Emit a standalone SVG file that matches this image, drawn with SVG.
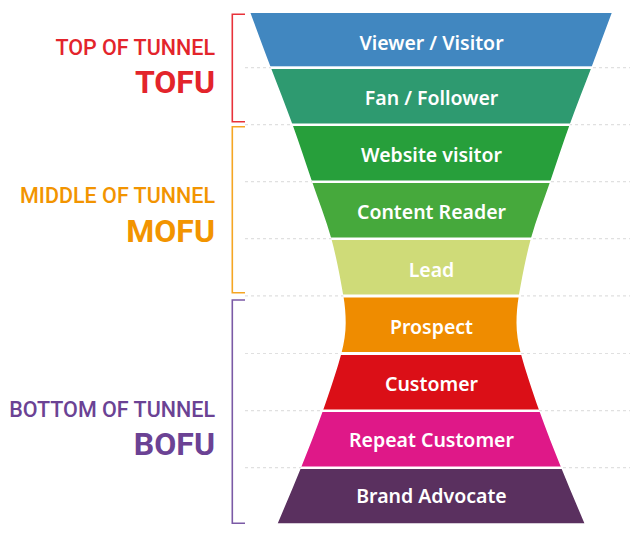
<svg xmlns="http://www.w3.org/2000/svg" width="630" height="540" viewBox="0 0 630 540">
<style>
.lbl{font-family:"Noto Sans","Open Sans","DejaVu Sans",sans-serif;font-weight:600;font-size:19.5px;fill:#fff;text-anchor:middle}
.sm{font-family:Roboto,"Liberation Sans",sans-serif;font-weight:500;font-size:21.5px;text-anchor:end}
.big{font-family:Roboto,"Liberation Sans",sans-serif;font-weight:700;font-size:32px;text-anchor:end}
.dash{stroke:#e0e0e0;stroke-width:1.2;stroke-dasharray:3 3;fill:none}
.br{fill:none;stroke-width:1.6}
</style>
<defs>
<path id="half" d="M 250.5,13 C 257.27,31.17 263.8,48.92 270.8,67.5 C 277.8,86.08 285.63,105.5 292.5,124.5 C 299.37,143.5 305.53,162.5 312,181.5 C 318.47,200.5 326.07,219.42 331.3,238.5 C 336.53,257.58 341,281.92 343.4,296 C 344.93,305 345.7,314 345.7,323 C 345.7,333 344.1,343 341.5,353 C 337.72,367.58 329.75,391.37 323,410.5 C 316.25,429.63 308.55,448.97 301,467.8 C 293.45,486.63 285.47,504.930 277.7,523.5 L 440,523.5 L 440,13 Z"/>
<clipPath id="hg">
<use href="#half"/>
<use href="#half" transform="translate(862.2 0) scale(-1 1)"/>
</clipPath>
</defs>
<rect width="630" height="540" fill="#fff"/>
<g id="gridlines">
<line class="dash" x1="245" y1="67.6" x2="630" y2="67.6"/>
<line class="dash" x1="245" y1="124.7" x2="630" y2="124.7"/>
<line class="dash" x1="245" y1="181.7" x2="630" y2="181.7"/>
<line class="dash" x1="245" y1="238.7" x2="630" y2="238.7"/>
<line class="dash" x1="245" y1="295.9" x2="630" y2="295.9"/>
<line class="dash" x1="245" y1="353.5" x2="630" y2="353.5"/>
<line class="dash" x1="245" y1="410.7" x2="630" y2="410.7"/>
<line class="dash" x1="245" y1="467.7" x2="630" y2="467.7"/>
</g>
<rect x="240" y="13" width="390" height="511" fill="#fff" clip-path="url(#hg)"/>
<g id="viewer"><rect x="240" y="13" width="390" height="53.3" fill="#4187c0" clip-path="url(#hg)"/><text class="lbl" x="431.5" y="50">Viewer / Visitor</text></g>
<g id="fan"><rect x="240" y="69" width="390" height="54.5" fill="#2e9a70" clip-path="url(#hg)"/><text class="lbl" x="431.5" y="105">Fan / Follower</text></g>
<g id="website"><rect x="240" y="126" width="390" height="54.5" fill="#279f3b" clip-path="url(#hg)"/><text class="lbl" x="431.5" y="162">Website visitor</text></g>
<g id="content"><rect x="240" y="183" width="390" height="54.5" fill="#46a93c" clip-path="url(#hg)"/><text class="lbl" x="431.5" y="219">Content Reader</text></g>
<g id="lead"><rect x="240" y="240" width="390" height="54.5" fill="#cfdb78" clip-path="url(#hg)"/><text class="lbl" x="431.5" y="277">Lead</text></g>
<g id="prospect"><rect x="240" y="297.5" width="390" height="54.5" fill="#ef8c00" clip-path="url(#hg)"/><text class="lbl" x="431.5" y="334">Prospect</text></g>
<g id="customer"><rect x="240" y="355" width="390" height="54.5" fill="#db0f17" clip-path="url(#hg)"/><text class="lbl" x="431.5" y="391">Customer</text></g>
<g id="repeat"><rect x="240" y="412" width="390" height="54.5" fill="#df1888" clip-path="url(#hg)"/><text class="lbl" x="431.5" y="447">Repeat Customer</text></g>
<g id="advocate"><rect x="240" y="469" width="390" height="54.5" fill="#5a305f" clip-path="url(#hg)"/><text class="lbl" x="431.5" y="503">Brand Advocate</text></g>
<g id="tofu">
<path class="br" stroke="#e8323a" d="M245,14.3 H232.3 V121.7 H245"/>
<text class="sm" x="215" y="55" fill="#e3242b">TOP OF TUNNEL</text>
<text class="big" x="215" y="93" fill="#e3242b">TOFU</text>
</g>
<g id="mofu">
<path class="br" stroke="#f5a623" d="M245,126.7 H232.3 V292.7 H245"/>
<text class="sm" x="215" y="202.7" fill="#f29400">MIDDLE OF TUNNEL</text>
<text class="big" x="215" y="241.5" fill="#f29400">MOFU</text>
</g>
<g id="bofu">
<path class="br" stroke="#7b5aa6" d="M245,300 H232.3 V523.3 H245"/>
<text class="sm" x="215" y="416.7" fill="#6b4294">BOTTOM OF TUNNEL</text>
<text class="big" x="215" y="455" fill="#6b4294">BOFU</text>
</g>
</svg>
